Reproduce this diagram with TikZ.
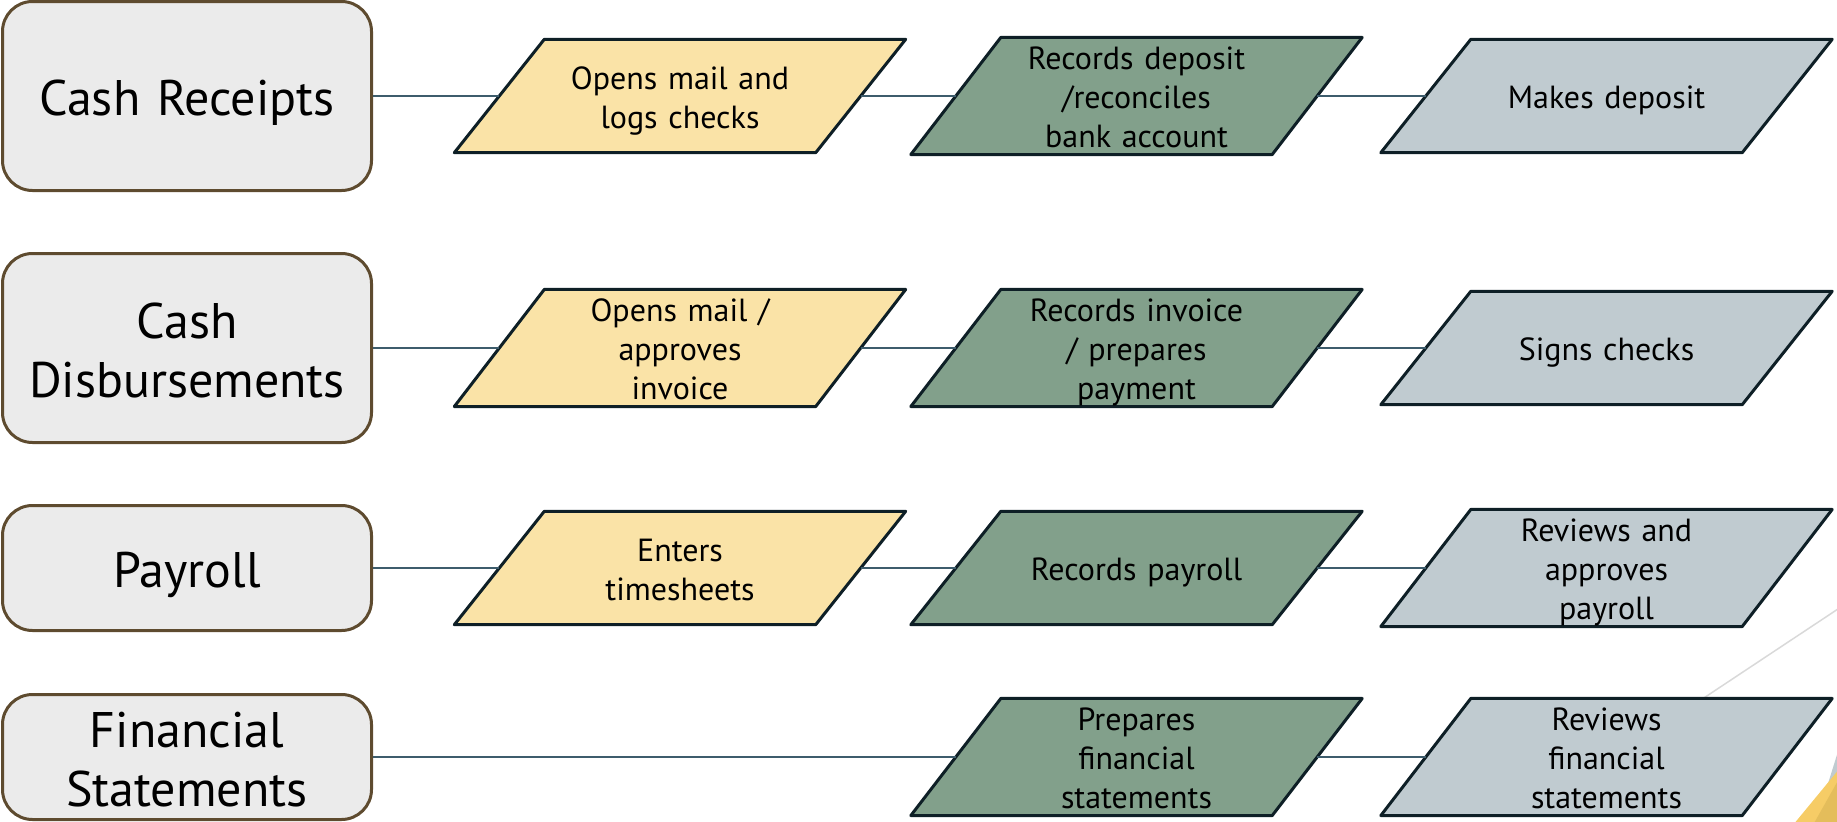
\documentclass[tikz,border=0pt]{standalone}
\usepackage{fontspec}
\setmainfont{PT Sans}
\usetikzlibrary{backgrounds}

\definecolor{areafill}{HTML}{EBEBEB}
\definecolor{areadraw}{HTML}{5E4B2F}
\definecolor{taskyellow}{HTML}{FAE3A7}
\definecolor{taskgreen}{HTML}{82A08B}
\definecolor{taskgrey}{HTML}{C0CBD0}
\definecolor{taskdraw}{HTML}{0E1F26}
\definecolor{linkcol}{HTML}{3D5C6C}
\definecolor{decoyellow}{HTML}{F6CC66}
\definecolor{decodark}{HTML}{E4BD5B}

\tikzset{
  area/.style={draw=areadraw,line width=3pt,fill=areafill,rounded corners=30pt,
    minimum width=369pt,inner sep=0pt,text width=340pt,align=center,
    font=\fontsize{50}{59}\selectfont,
    execute at begin node=\rule{0pt}{50pt},execute at end node=\rule[-10.5pt]{0pt}{10.5pt}},
  task/.style={rectangle,minimum width=361pt,minimum height=113pt,inner sep=0pt,
    text width=300pt,align=center,font=\fontsize{32}{39}\selectfont,
    execute at begin node=\rule{0pt}{32pt},execute at end node=\rule[-6.7pt]{0pt}{6.7pt}},
  slant/.style={draw=taskdraw,line width=3pt,line join=round},
  link/.style={draw=linkcol,line width=2pt}
}

\begin{document}
\begin{tikzpicture}[x=1pt,y=-1pt]
\useasboundingbox (0,0) rectangle (1837,822);

% corner decoration
\fill[taskgrey] (1826,790) -- (1840,745) -- (1840,790) -- cycle;
\fill[decoyellow] (1793,825) -- (1840,768) -- (1840,825) -- cycle;
\fill[decodark] (1813,825) -- (1840,777) -- (1840,825) -- cycle;

\node[area,minimum height=189pt] (cr) at (187,96)  {Cash Receipts};
\node[area,minimum height=189pt] (cd) at (187,348) {Cash\\Disbursements};
\node[area,minimum height=125pt] (pr) at (187,568) {Payroll};
\node[area,minimum height=125pt] (fs) at (187,757) {Financial\\Statements};

\node[task] (cr1) at (680,96)    {Opens mail and\\logs checks};
\node[task] (cr2) at (1136.5,96) {Records deposit\\/reconciles\\bank account};
\node[task] (cr3) at (1606.5,96) {Makes deposit};

\node[task] (cd1) at (680,348)    {Opens mail /\\approves\\invoice};
\node[task] (cd2) at (1136.5,348) {Records invoice\\/ prepares\\payment};
\node[task] (cd3) at (1606.5,348) {Signs checks};

\node[task] (pr1) at (680,568)    {Enters\\timesheets};
\node[task] (pr2) at (1136.5,568) {Records payroll};
\node[task] (pr3) at (1606.5,568) {Reviews and\\approves\\payroll};

\node[task] (fs2) at (1136.5,757) {Prepares\\financial\\statements};
\node[task] (fs3) at (1606.5,757) {Reviews\\financial\\statements};

% parallelograms behind the texts
\begin{scope}[on background layer]
\draw[gray!30,line width=1.5pt] (1660,727) -- (1850,601);
\foreach \n/\c in {cr1/taskyellow,cr2/taskgreen,cr3/taskgrey,
                   cd1/taskyellow,cd2/taskgreen,cd3/taskgrey,
                   pr1/taskyellow,pr2/taskgreen,pr3/taskgrey,
                   fs2/taskgreen,fs3/taskgrey}
  \draw[slant,fill=\c] ([xshift=-45pt]\n.south west) -- ([xshift=-45pt]\n.south east)
    -- ([xshift=45pt]\n.north east) -- ([xshift=45pt]\n.north west) -- cycle;
\end{scope}

\path[link] (cr) edge (cr1) (cr1) edge (cr2) (cr2) edge (cr3)
            (cd) edge (cd1) (cd1) edge (cd2) (cd2) edge (cd3)
            (pr) edge (pr1) (pr1) edge (pr2) (pr2) edge (pr3)
            (fs) edge (fs2) (fs2) edge (fs3);
\end{tikzpicture}
\end{document}
